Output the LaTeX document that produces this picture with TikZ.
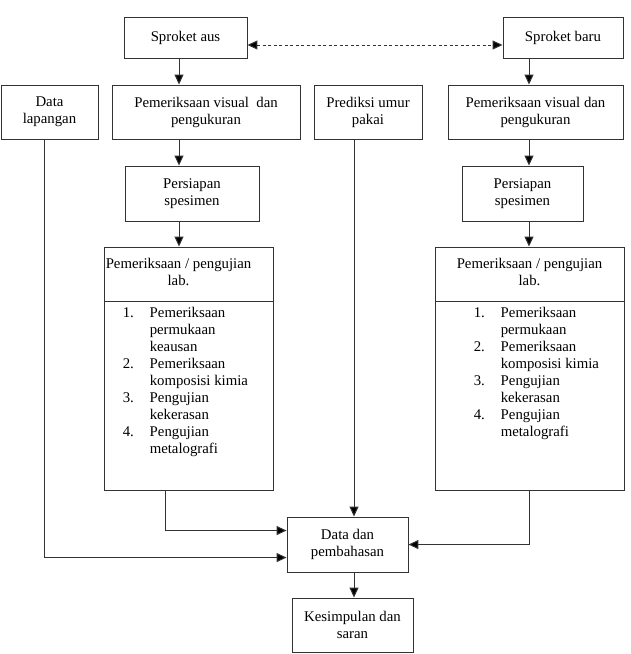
\documentclass[tikz,border=0pt]{standalone}
\usepackage{fontspec}
\setmainfont{Liberation Serif}
\usetikzlibrary{positioning, arrows.meta}

\begin{document}
\begin{tikzpicture}
        [x=1pt, y=-1pt,
         kotak/.style={draw=black!80, line width=0.9pt, align=center, inner sep=0pt,
                       font=\fontsize{14.8}{17}\selectfont},
         teks/.style={align=center, inner sep=0pt, font=\fontsize{14.8}{17}\selectfont},
         garis/.style={draw=black!80, line width=1pt},
         >={Triangle[length=10pt, width=9pt, fill=black]}]
        \useasboundingbox (0,0) rectangle (631,654);

        \node[kotak, minimum width=123pt, minimum height=41pt] (aus) at (185.5,37.5) {Sproket aus};
        \node[kotak, minimum width=120pt, minimum height=41pt] (baru) at (563,37.5) {Sproket baru};

        \node[kotak, minimum width=97pt, minimum height=54pt] (lap) at (49.5,112) {Data\\lapangan};
        \node[kotak, minimum width=188pt, minimum height=54pt] (viskiri) at (206,112) {Pemeriksaan visual~ dan\\pengukuran};
        \node[kotak, minimum width=108pt, minimum height=54pt] (prediksi) at (368,112) {Prediksi umur\\pakai};
        \node[kotak, minimum width=175pt, minimum height=54pt] (viskanan) at (535.5,112) {Pemeriksaan visual dan\\pengukuran};

        \node[kotak, minimum width=134pt, minimum height=55pt] (siapkiri) at (192,193.5) {Persiapan\\spesimen};
        \node[kotak, minimum width=121pt, minimum height=55pt] (siapkanan) at (522.5,193.5) {Persiapan\\spesimen};

        \node[kotak, minimum width=169pt, minimum height=54pt] (labkiri) at (188.5,274) {};
        \node[teks] (judulkiri) at ([xshift=-10pt, yshift=2pt]labkiri.center) {Pemeriksaan / pengujian\\lab.};
        \node[kotak, minimum width=169pt, minimum height=189pt] (daftarkiri) at (188.5,395.5) {};
        \node[teks, anchor=north west] (isikiri) at ([xshift=19pt, yshift=-5pt]daftarkiri.north west)
            {\begin{tabular}{@{}p{27pt}@{}l@{}}
             1. & Pemeriksaan\\ & permukaan\\ & keausan\\
             2. & Pemeriksaan\\ & komposisi kimia\\
             3. & Pengujian\\ & kekerasan\\
             4. & Pengujian\\ & metalografi
             \end{tabular}};

        \node[kotak, minimum width=189pt, minimum height=54pt] (labkanan) at (529.5,274) {};
        \node[teks] (judulkanan) at ([yshift=2pt]labkanan.center) {Pemeriksaan / pengujian\\lab.};
        \node[kotak, minimum width=189pt, minimum height=189pt] (daftarkanan) at (529.5,395.5) {};
        \node[teks, anchor=north west] (isikanan) at ([xshift=39pt, yshift=-5pt]daftarkanan.north west)
            {\begin{tabular}{@{}p{27pt}@{}l@{}}
             1. & Pemeriksaan\\ & permukaan\\
             2. & Pemeriksaan\\ & komposisi kimia\\
             3. & Pengujian\\ & kekerasan\\
             4. & Pengujian\\ & metalografi
             \end{tabular}};

        \node[kotak, minimum width=121pt, minimum height=55pt] (hasil) at (347.5,544.5) {Data dan\\pembahasan};
        \node[kotak, minimum width=121pt, minimum height=54pt] (simpul) at (352.5,625) {Kesimpulan dan\\saran};

        \coordinate (kolkiri) at (179,0);
        \coordinate (kolkanan) at (529,0);
        \coordinate (koltengah) at (354,0);
        \coordinate (kollap) at (44,0);
        \coordinate (kollab) at (165,0);

        \draw[garis, <->, dash pattern=on 3pt off 2.5pt] ([yshift=-7.5pt]aus.east) -- ([yshift=-7.5pt]baru.west);

        \draw[garis, ->] (aus.south -| kolkiri) -- (viskiri.north -| kolkiri);
        \draw[garis, ->] (viskiri.south -| kolkiri) -- (siapkiri.north -| kolkiri);
        \draw[garis, ->] (siapkiri.south -| kolkiri) -- (labkiri.north -| kolkiri);
        \draw[garis, ->] (baru.south -| kolkanan) -- (viskanan.north -| kolkanan);
        \draw[garis, ->] (viskanan.south -| kolkanan) -- (siapkanan.north -| kolkanan);
        \draw[garis, ->] (siapkanan.south -| kolkanan) -- (labkanan.north -| kolkanan);

        \draw[garis, ->] (prediksi.south -| koltengah) -- (hasil.north -| koltengah);
        \draw[garis, ->] (hasil.south -| koltengah) -- (simpul.north -| koltengah);
        \draw[garis, ->] (daftarkiri.south -| kollab) |- ([yshift=-14pt]hasil.north west);
        \draw[garis, ->] (lap.south -| kollap) |- ([yshift=-41pt]hasil.north west);
        \draw[garis, ->] (daftarkanan.south -| kolkanan) |- ([yshift=-28pt]hasil.north east);
\end{tikzpicture}
\end{document}
